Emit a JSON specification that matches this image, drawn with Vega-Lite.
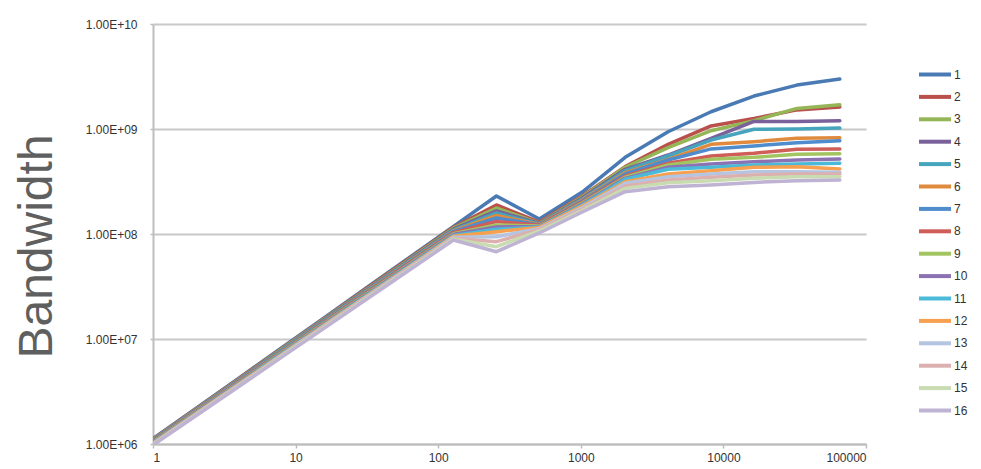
{
  "$schema": "https://vega.github.io/schema/vega-lite/v6.json",
  "width": 713,
  "height": 420,
  "autosize": "none",
  "padding": {"left": 153, "top": 24, "right": 115, "bottom": 25},
  "background": "white",
  "data": {"values": [
    {"s":1,"x":1,"y":1122000},{"s":1,"x":2,"y":2183000},{"s":1,"x":4,"y":4246000},{"s":1,"x":8,"y":8260000},{"s":1,"x":16,"y":16070000},{"s":1,"x":32,"y":31260000},{"s":1,"x":64,"y":60810000},{"s":1,"x":128,"y":118300000},{"s":1,"x":256,"y":230000000},{"s":1,"x":512,"y":139000000},{"s":1,"x":1024,"y":251000000},{"s":1,"x":2048,"y":537000000},{"s":1,"x":4096,"y":942000000},{"s":1,"x":8192,"y":1460000000},{"s":1,"x":16384,"y":2060000000},{"s":1,"x":32768,"y":2620000000},{"s":1,"x":65536,"y":2990000000},
    {"s":2,"x":1,"y":1112000},{"s":2,"x":2,"y":2158000},{"s":2,"x":4,"y":4198000},{"s":2,"x":8,"y":8147000},{"s":2,"x":16,"y":15810000},{"s":2,"x":32,"y":30760000},{"s":2,"x":64,"y":59700000},{"s":2,"x":128,"y":115900000},{"s":2,"x":256,"y":189000000},{"s":2,"x":512,"y":130000000},{"s":2,"x":1024,"y":230000000},{"s":2,"x":2048,"y":438000000},{"s":2,"x":4096,"y":715000000},{"s":2,"x":8192,"y":1070000000},{"s":2,"x":16384,"y":1260000000},{"s":2,"x":32768,"y":1520000000},{"s":2,"x":65536,"y":1620000000},
    {"s":3,"x":1,"y":1102000},{"s":3,"x":2,"y":2138000},{"s":3,"x":4,"y":4140000},{"s":3,"x":8,"y":8035000},{"s":3,"x":16,"y":15600000},{"s":3,"x":32,"y":30200000},{"s":3,"x":64,"y":58610000},{"s":3,"x":128,"y":113800000},{"s":3,"x":256,"y":177000000},{"s":3,"x":512,"y":127000000},{"s":3,"x":1024,"y":225000000},{"s":3,"x":2048,"y":432000000},{"s":3,"x":4096,"y":664000000},{"s":3,"x":8192,"y":964000000},{"s":3,"x":16384,"y":1200000000},{"s":3,"x":32768,"y":1570000000},{"s":3,"x":65536,"y":1700000000},
    {"s":4,"x":1,"y":1091000},{"s":4,"x":2,"y":2113000},{"s":4,"x":4,"y":4093000},{"s":4,"x":8,"y":7925000},{"s":4,"x":16,"y":15350000},{"s":4,"x":32,"y":29720000},{"s":4,"x":64,"y":57540000},{"s":4,"x":128,"y":111400000},{"s":4,"x":256,"y":166000000},{"s":4,"x":512,"y":126000000},{"s":4,"x":1024,"y":220000000},{"s":4,"x":2048,"y":413000000},{"s":4,"x":4096,"y":565000000},{"s":4,"x":8192,"y":815000000},{"s":4,"x":16384,"y":1180000000},{"s":4,"x":32768,"y":1180000000},{"s":4,"x":65536,"y":1200000000},
    {"s":5,"x":1,"y":1081000},{"s":5,"x":2,"y":2089000},{"s":5,"x":4,"y":4046000},{"s":5,"x":8,"y":7816000},{"s":5,"x":16,"y":15100000},{"s":5,"x":32,"y":29240000},{"s":5,"x":64,"y":56490000},{"s":5,"x":128,"y":109100000},{"s":5,"x":256,"y":158500000},{"s":5,"x":512,"y":124500000},{"s":5,"x":1024,"y":215000000},{"s":5,"x":2048,"y":401000000},{"s":5,"x":4096,"y":553000000},{"s":5,"x":8192,"y":785000000},{"s":5,"x":16384,"y":993000000},{"s":5,"x":32768,"y":1000000000},{"s":5,"x":65536,"y":1020000000},
    {"s":6,"x":1,"y":1072000},{"s":6,"x":2,"y":2070000},{"s":6,"x":4,"y":3990000},{"s":6,"x":8,"y":7709000},{"s":6,"x":16,"y":14890000},{"s":6,"x":32,"y":28770000},{"s":6,"x":64,"y":55460000},{"s":6,"x":128,"y":107200000},{"s":6,"x":256,"y":150000000},{"s":6,"x":512,"y":123000000},{"s":6,"x":1024,"y":211000000},{"s":6,"x":2048,"y":384000000},{"s":6,"x":4096,"y":514000000},{"s":6,"x":8192,"y":715000000},{"s":6,"x":16384,"y":757000000},{"s":6,"x":32768,"y":815000000},{"s":6,"x":65536,"y":826000000},
    {"s":7,"x":1,"y":1062000},{"s":7,"x":2,"y":2046000},{"s":7,"x":4,"y":3945000},{"s":7,"x":8,"y":7603000},{"s":7,"x":16,"y":14660000},{"s":7,"x":32,"y":28250000},{"s":7,"x":64,"y":54450000},{"s":7,"x":128,"y":105000000},{"s":7,"x":256,"y":142000000},{"s":7,"x":512,"y":122000000},{"s":7,"x":1024,"y":206000000},{"s":7,"x":2048,"y":373000000},{"s":7,"x":4096,"y":507000000},{"s":7,"x":8192,"y":646000000},{"s":7,"x":16384,"y":689000000},{"s":7,"x":32768,"y":741000000},{"s":7,"x":65536,"y":774000000},
    {"s":8,"x":1,"y":1052000},{"s":8,"x":2,"y":2023000},{"s":8,"x":4,"y":3899000},{"s":8,"x":8,"y":7499000},{"s":8,"x":16,"y":14420000},{"s":8,"x":32,"y":27800000},{"s":8,"x":64,"y":53460000},{"s":8,"x":128,"y":102800000},{"s":8,"x":256,"y":131500000},{"s":8,"x":512,"y":121000000},{"s":8,"x":1024,"y":202000000},{"s":8,"x":2048,"y":357000000},{"s":8,"x":4096,"y":471000000},{"s":8,"x":8192,"y":553000000},{"s":8,"x":16384,"y":587000000},{"s":8,"x":32768,"y":641000000},{"s":8,"x":65536,"y":645000000},
    {"s":9,"x":1,"y":1042000},{"s":9,"x":2,"y":2004000},{"s":9,"x":4,"y":3846000},{"s":9,"x":8,"y":7396000},{"s":9,"x":16,"y":14220000},{"s":9,"x":32,"y":27290000},{"s":9,"x":64,"y":52480000},{"s":9,"x":128,"y":100900000},{"s":9,"x":256,"y":122000000},{"s":9,"x":512,"y":119000000},{"s":9,"x":1024,"y":197000000},{"s":9,"x":2048,"y":347000000},{"s":9,"x":4096,"y":454000000},{"s":9,"x":8192,"y":514000000},{"s":9,"x":16384,"y":537000000},{"s":9,"x":32768,"y":574000000},{"s":9,"x":65536,"y":582000000},
    {"s":10,"x":1,"y":1033000},{"s":10,"x":2,"y":1982000},{"s":10,"x":4,"y":3802000},{"s":10,"x":8,"y":7295000},{"s":10,"x":16,"y":14000000},{"s":10,"x":32,"y":26850000},{"s":10,"x":64,"y":51520000},{"s":10,"x":128,"y":98860000},{"s":10,"x":256,"y":116700000},{"s":10,"x":512,"y":118000000},{"s":10,"x":1024,"y":193000000},{"s":10,"x":2048,"y":339000000},{"s":10,"x":4096,"y":432000000},{"s":10,"x":8192,"y":464000000},{"s":10,"x":16384,"y":488000000},{"s":10,"x":32768,"y":507000000},{"s":10,"x":65536,"y":518000000},
    {"s":11,"x":1,"y":1023000},{"s":11,"x":2,"y":1959000},{"s":11,"x":4,"y":3758000},{"s":11,"x":8,"y":7194000},{"s":11,"x":16,"y":13770000},{"s":11,"x":32,"y":26360000},{"s":11,"x":64,"y":50580000},{"s":11,"x":128,"y":96830000},{"s":11,"x":256,"y":110900000},{"s":11,"x":512,"y":116700000},{"s":11,"x":1024,"y":189000000},{"s":11,"x":2048,"y":332000000},{"s":11,"x":4096,"y":413000000},{"s":11,"x":8192,"y":432000000},{"s":11,"x":16384,"y":454000000},{"s":11,"x":32768,"y":464000000},{"s":11,"x":65536,"y":471000000},
    {"s":12,"x":1,"y":1014000},{"s":12,"x":2,"y":1941000},{"s":12,"x":4,"y":3707000},{"s":12,"x":8,"y":7096000},{"s":12,"x":16,"y":13580000},{"s":12,"x":32,"y":25940000},{"s":12,"x":64,"y":49660000},{"s":12,"x":128,"y":95060000},{"s":12,"x":256,"y":105200000},{"s":12,"x":512,"y":115500000},{"s":12,"x":1024,"y":185000000},{"s":12,"x":2048,"y":315000000},{"s":12,"x":4096,"y":373000000},{"s":12,"x":8192,"y":401000000},{"s":12,"x":16384,"y":432000000},{"s":12,"x":32768,"y":438000000},{"s":12,"x":65536,"y":416000000},
    {"s":13,"x":1,"y":1005000},{"s":13,"x":2,"y":1919000},{"s":13,"x":4,"y":3664000},{"s":13,"x":8,"y":6998000},{"s":13,"x":16,"y":13370000},{"s":13,"x":32,"y":25530000},{"s":13,"x":64,"y":48750000},{"s":13,"x":128,"y":93110000},{"s":13,"x":256,"y":94200000},{"s":13,"x":512,"y":112800000},{"s":13,"x":1024,"y":179000000},{"s":13,"x":2048,"y":304000000},{"s":13,"x":4096,"y":351000000},{"s":13,"x":8192,"y":373000000},{"s":13,"x":16384,"y":392000000},{"s":13,"x":32768,"y":392000000},{"s":13,"x":65536,"y":387000000},
    {"s":14,"x":1,"y":995400},{"s":14,"x":2,"y":1897000},{"s":14,"x":4,"y":3622000},{"s":14,"x":8,"y":6902000},{"s":14,"x":16,"y":13150000},{"s":14,"x":32,"y":25060000},{"s":14,"x":64,"y":47860000},{"s":14,"x":128,"y":91200000},{"s":14,"x":256,"y":84500000},{"s":14,"x":512,"y":110400000},{"s":14,"x":1024,"y":173000000},{"s":14,"x":2048,"y":287000000},{"s":14,"x":4096,"y":327000000},{"s":14,"x":8192,"y":347000000},{"s":14,"x":16384,"y":365000000},{"s":14,"x":32768,"y":373000000},{"s":14,"x":65536,"y":373000000},
    {"s":15,"x":1,"y":986300},{"s":15,"x":2,"y":1879000},{"s":15,"x":4,"y":3573000},{"s":15,"x":8,"y":6808000},{"s":15,"x":16,"y":12970000},{"s":15,"x":32,"y":24720000},{"s":15,"x":64,"y":46990000},{"s":15,"x":128,"y":89540000},{"s":15,"x":256,"y":75700000},{"s":15,"x":512,"y":106900000},{"s":15,"x":1024,"y":167000000},{"s":15,"x":2048,"y":272000000},{"s":15,"x":4096,"y":308000000},{"s":15,"x":8192,"y":322000000},{"s":15,"x":16384,"y":339000000},{"s":15,"x":32768,"y":351000000},{"s":15,"x":65536,"y":351000000},
    {"s":16,"x":1,"y":977200},{"s":16,"x":2,"y":1858000},{"s":16,"x":4,"y":3532000},{"s":16,"x":8,"y":6714000},{"s":16,"x":16,"y":12760000},{"s":16,"x":32,"y":24270000},{"s":16,"x":64,"y":46130000},{"s":16,"x":128,"y":87700000},{"s":16,"x":256,"y":67800000},{"s":16,"x":512,"y":102300000},{"s":16,"x":1024,"y":162000000},{"s":16,"x":2048,"y":253000000},{"s":16,"x":4096,"y":282000000},{"s":16,"x":8192,"y":293000000},{"s":16,"x":16384,"y":310000000},{"s":16,"x":32768,"y":322000000},{"s":16,"x":65536,"y":327000000}
  ]},
  "mark": {"type": "line", "strokeWidth": 3.5, "clip": true, "strokeCap": "round", "strokeJoin": "round"},
  "encoding": {
    "x": {"field": "x", "type": "quantitative",
      "scale": {"type": "log", "domain": [1, 100000], "nice": false},
      "axis": {"values": [1, 10, 100, 1000, 10000, 100000], "format": "d", "title": null, "grid": false,
        "labelFontSize": 12, "labelColor": "#333333", "labelPadding": 4,
        "domainColor": "#bdbdbd", "domainWidth": 2, "tickColor": "#bdbdbd", "tickSize": 4, "tickWidth": 1.5}},
    "y": {"field": "y", "type": "quantitative",
      "scale": {"type": "log", "domain": [1000000, 10000000000], "nice": false},
      "axis": {"values": [1000000, 10000000, 100000000, 1000000000, 10000000000],
        "labelExpr": "'1.00E+' + (datum.value < 5000000000 ? '0' : '') + format(log(datum.value)/LN10, '.0f')",
        "title": "Bandwidth", "titleFontSize": 48, "titleFontWeight": "normal", "titleColor": "#5f5f5f",
        "titleX": -102, "titleY": 222, "titleAngle": -90, "titleAlign": "center", "titleBaseline": "alphabetic",
        "grid": true, "gridColor": "#c8c8c8", "gridWidth": 2,
        "labelFontSize": 12, "labelColor": "#333333", "labelPadding": 13,
        "domainColor": "#bdbdbd", "domainWidth": 2, "tickColor": "#bdbdbd", "tickSize": 3, "tickWidth": 1.5}},
    "color": {"field": "s", "type": "nominal",
      "scale": {"domain": [1,2,3,4,5,6,7,8,9,10,11,12,13,14,15,16],
        "range": ["#4a7ab3", "#b9504c", "#95b657", "#7a619b", "#46a4bc", "#e08a3e", "#4e8ccd", "#cf5d58", "#a3c561", "#8c72b3", "#4bbad8", "#f7a04f", "#b5c5e1", "#dcb0ae", "#c9dbb0", "#bfb3d4"]},
      "legend": {"orient": "none", "legendX": 770, "legendY": 38.5, "title": null,
        "symbolType": "M-1.6,0H1.6", "symbolSize": 400, "symbolStrokeWidth": 4,
        "labelFontSize": 12, "labelColor": "#333333", "labelOffset": 7, "rowPadding": 2.4}}
  },
  "config": {"view": {"stroke": null}, "font": "Liberation Sans"}
}
